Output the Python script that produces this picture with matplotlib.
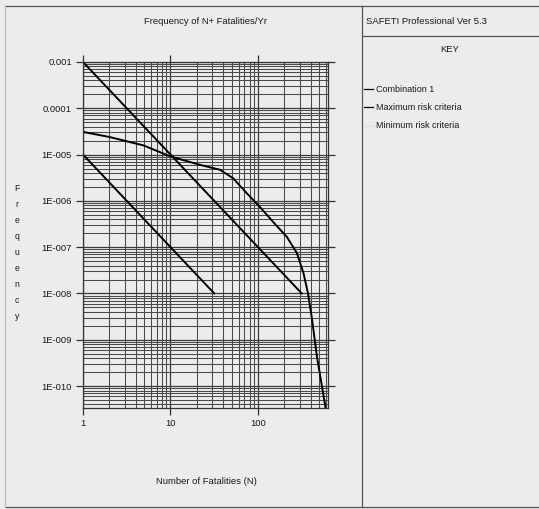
import matplotlib
matplotlib.use("Agg")
import matplotlib.pyplot as plt
from matplotlib.lines import Line2D
from matplotlib.ticker import FixedLocator, FixedFormatter, NullFormatter

plt.rcParams['font.family'] = ['Liberation Sans', 'DejaVu Sans']

# F-N curve for the combined scenario
comb_n = [1, 2, 4.9, 10, 21.7, 36.8, 51.7, 74, 105, 149, 214, 279, 331, 373, 414,
          472, 540, 590]
comb_f = [3.09e-5, 2.4e-5, 1.58e-5, 9.1e-6, 6.0e-6, 4.7e-6, 3.1e-6, 1.48e-6, 7.4e-7,
          3.5e-7, 1.66e-7, 7.4e-8, 2.75e-8, 1.0e-8, 2.8e-9, 4.3e-10, 9.5e-11, 3.5e-11]

# Societal risk criteria lines (end points)
max_n = [1, 316.2]
max_f = [1e-3, 1e-8]
min_n = [1, 31.62]
min_f = [1e-5, 1e-8]

x_ticks = [1, 10, 100]
x_labels = ["1", "10", "100"]
y_ticks = [1e-3, 1e-4, 1e-5, 1e-6, 1e-7, 1e-8, 1e-9, 1e-10]
y_labels = ["0.001", "0.0001", "1E-005", "1E-006", "1E-007", "1E-008", "1E-009", "1E-010"]

W, H = 539, 509
paper = '#ececec'
ink = '#1a1a1a'
fig = plt.figure(figsize=(W / 100, H / 100), dpi=100, facecolor=paper)


def px(x, y):
    return x / W, 1 - y / H


# plot area
l, r, t, b = 83, 328, 62, 408
ax = fig.add_axes([l / W, 1 - b / H, (r - l) / W, (b - t) / H])
ax.set_facecolor(paper)
ax.set_xscale('log')
ax.set_yscale('log')
ax.set_xlim(1, 631)
ax.set_ylim(3.35e-11, 1e-3)

ax.xaxis.set_major_locator(FixedLocator(x_ticks))
ax.xaxis.set_major_formatter(FixedFormatter(x_labels))
ax.yaxis.set_major_locator(FixedLocator(y_ticks))
ax.yaxis.set_major_formatter(FixedFormatter(y_labels))
minor_x = [m * d for d in (1, 10, 100) for m in range(2, 10)]
minor_y = [m * 10.0 ** e for e in range(-11, -3) for m in range(2, 10)]
ax.xaxis.set_minor_locator(FixedLocator(minor_x))
ax.yaxis.set_minor_locator(FixedLocator(minor_y))
ax.xaxis.set_minor_formatter(NullFormatter())
ax.yaxis.set_minor_formatter(NullFormatter())

ax.tick_params(which='major', direction='out', length=5, width=0.9, color='#333333',
               top=True, right=True, labelsize=6.8, pad=3, labelcolor=ink)
ax.tick_params(which='minor', length=0)
ax.grid(which='major', color='#3a3a3a', lw=0.9)
ax.grid(which='minor', color='#4a4a4a', lw=0.75)
for s in ax.spines.values():
    s.set_color('#333333')
    s.set_linewidth(0.9)

ax.plot(comb_n, comb_f, color='black', lw=1.4)
ax.plot(max_n, max_f, color='black', lw=1.4)
ax.plot(min_n, min_f, color='black', lw=1.4)

# titles and stacked y label
fig.text(*px(206, 22), "Frequency of N+ Fatalities/Yr", ha='center', va='center',
         fontsize=6.8, color=ink)
fig.text(*px(206, 482), "Number of Fatalities (N)", ha='center', va='center',
         fontsize=6.8, color=ink)
fig.text(*px(17, 253), "\n".join("Frequency"), ha='center', va='center', fontsize=6.2,
         linespacing=2.0, color=ink)

# page frame and key panel
frame = dict(color='#555555', lw=0.9, transform=fig.transFigure)
fig.add_artist(Line2D(*zip(px(5, 6), px(W, 6)), **frame))
fig.add_artist(Line2D(*zip(px(5, 507), px(W, 507)), **frame))
fig.add_artist(Line2D(*zip(px(5, 6), px(5, 507)), color='#bbbbbb', lw=0.8,
                      transform=fig.transFigure))
fig.add_artist(Line2D(*zip(px(362, 6), px(362, 507)), **frame))
fig.add_artist(Line2D(*zip(px(362, 36), px(W, 36)), **frame))

fig.text(*px(366, 22), "SAFETI Professional Ver 5.3", ha='left', va='center',
         fontsize=6.8, color=ink)
fig.text(*px(450, 50), "KEY", ha='center', va='center', fontsize=6.8, color=ink)

key = [("Combination 1", 'black', 89), ("Maximum risk criteria", 'black', 107),
       ("Minimum risk criteria", '#dedede', 126)]
for label, col, yy in key:
    fig.add_artist(Line2D(*zip(px(364, yy), px(373, yy)), color=col, lw=0.9,
                          transform=fig.transFigure))
    fig.text(*px(376, yy), label, ha='left', va='center', fontsize=6.5, color=ink)

fig.savefig("out.png", dpi=100, facecolor=paper)
